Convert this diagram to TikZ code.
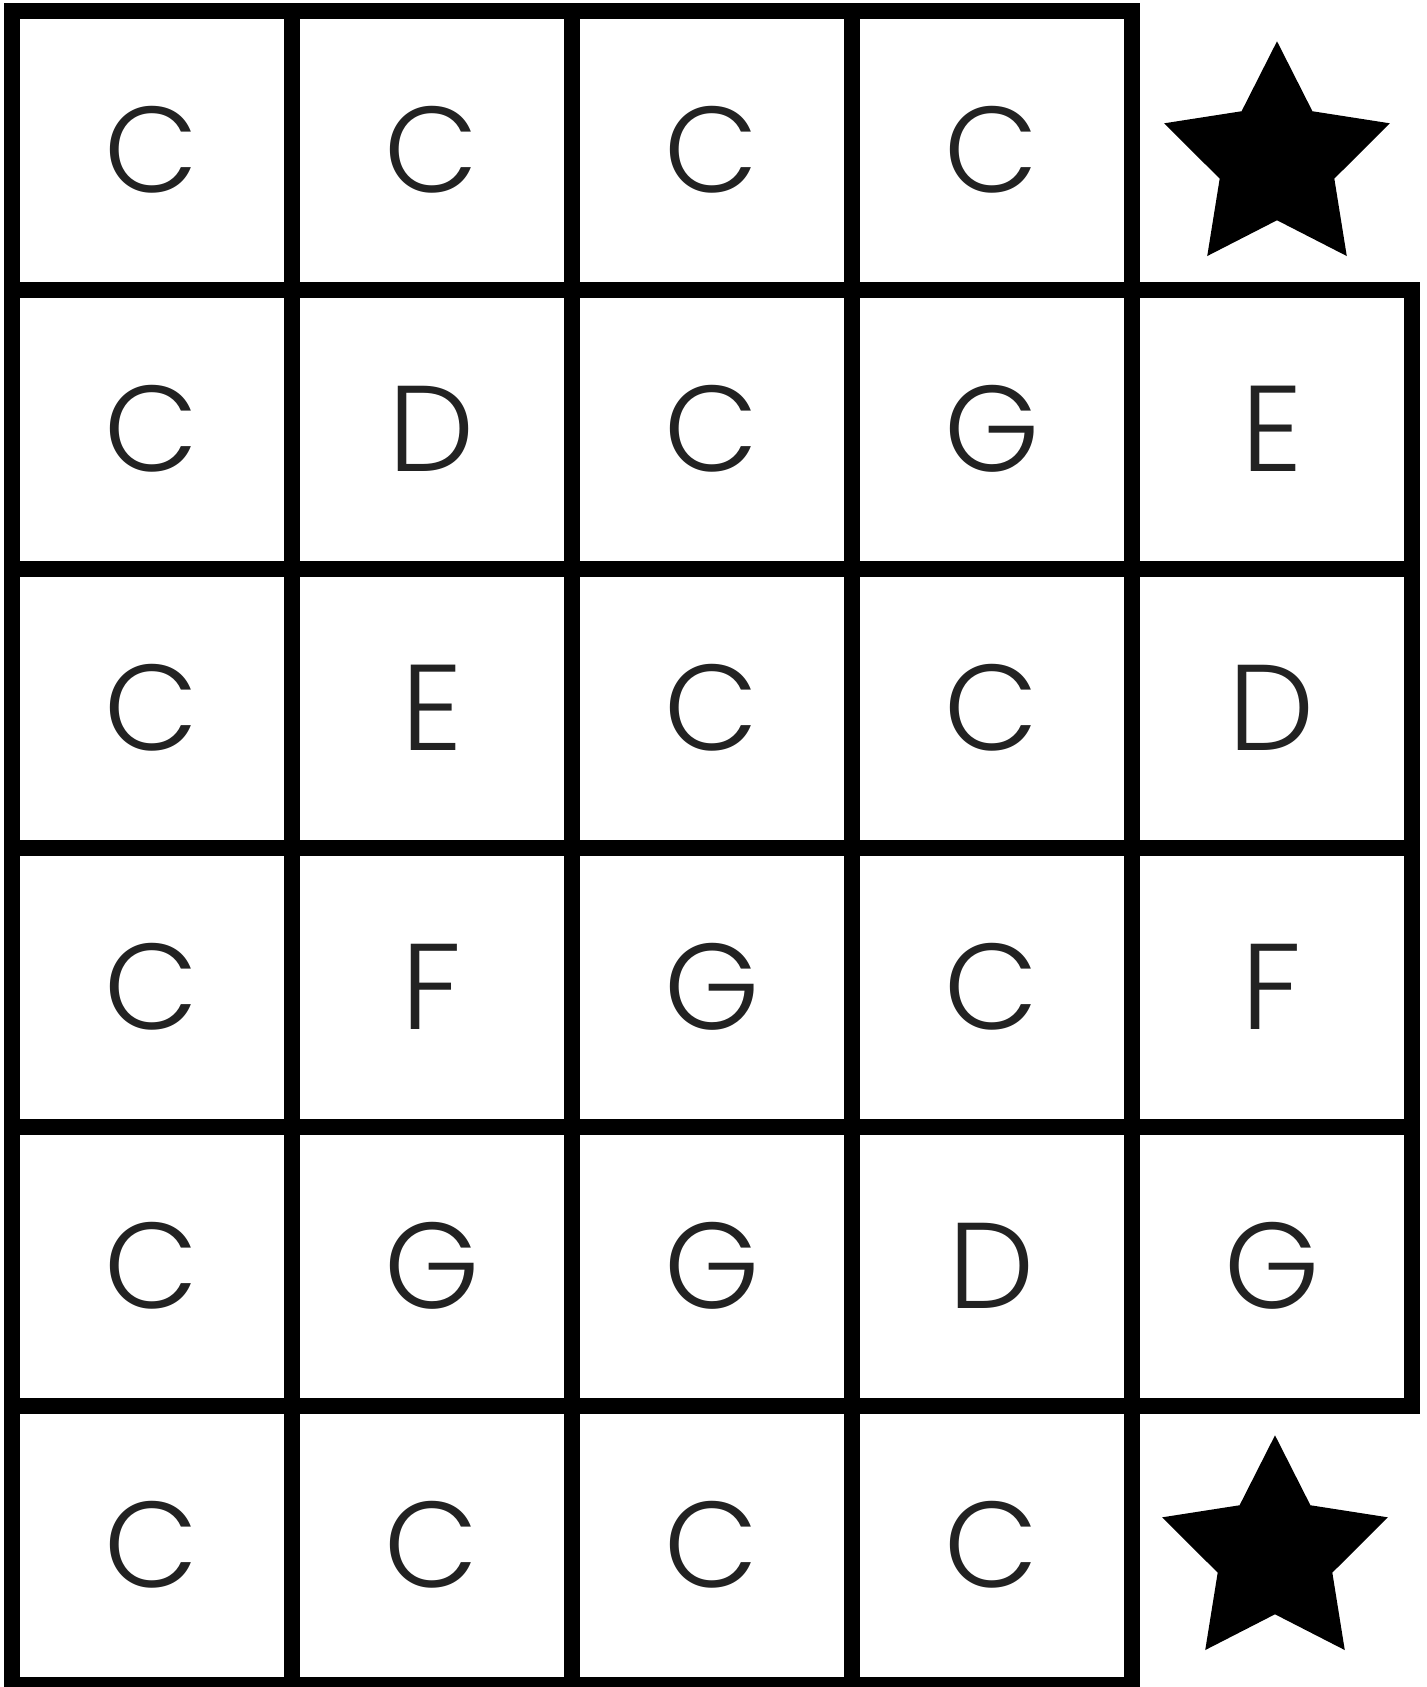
\documentclass[tikz,border=0pt]{standalone}
\usepackage{fontspec}
\usepackage{tikz}
\usetikzlibrary{shapes.geometric,positioning}
\newfontfamily\letterfont{Poppins Light}
\definecolor{letra}{RGB}{34,34,34}

\begin{document}
\begin{tikzpicture}[
	x=0.5pt, y=-0.5pt,
	node distance=0pt,
	celula/.style={rectangle, draw=black, line width=8pt, outer sep=0pt, inner sep=0pt, minimum width=140pt, minimum height=139.5pt, text=letra, font=\letterfont\fontsize{61pt}{61pt}\selectfont},
	estrela/.style={star, star points=5, star point ratio=1.97, fill=black, draw=none, inner sep=0pt, minimum size=118.7pt},
]
\useasboundingbox (0,0) rectangle (1427,1687);

% linha 1
\node[celula] (a1) at (152,150) {C};
\node[celula] (a2) [right=of a1] {C};
\node[celula] (a3) [right=of a2] {C};
\node[celula] (a4) [right=of a3] {C};
\node[estrela] (sa) at (1277,160) {};

% linha 2
\node[celula] (b1) [below=of a1] {C};
\node[celula] (b2) [right=of b1] {D};
\node[celula] (b3) [right=of b2] {C};
\node[celula] (b4) [right=of b3] {G};
\node[celula] (b5) [right=of b4] {E};

% linha 3
\node[celula] (c1) [below=of b1] {C};
\node[celula] (c2) [right=of c1] {E};
\node[celula] (c3) [right=of c2] {C};
\node[celula] (c4) [right=of c3] {C};
\node[celula] (c5) [right=of c4] {D};

% linha 4
\node[celula] (d1) [below=of c1] {C};
\node[celula] (d2) [right=of d1] {F};
\node[celula] (d3) [right=of d2] {G};
\node[celula] (d4) [right=of d3] {C};
\node[celula] (d5) [right=of d4] {F};

% linha 5
\node[celula] (e1) [below=of d1] {C};
\node[celula] (e2) [right=of e1] {G};
\node[celula] (e3) [right=of e2] {G};
\node[celula] (e4) [right=of e3] {D};
\node[celula] (e5) [right=of e4] {G};

% linha 6
\node[celula] (f1) [below=of e1] {C};
\node[celula] (f2) [right=of f1] {C};
\node[celula] (f3) [right=of f2] {C};
\node[celula] (f4) [right=of f3] {C};
\node[estrela] (sf) at (1275,1554) {};
\end{tikzpicture}
\end{document}
